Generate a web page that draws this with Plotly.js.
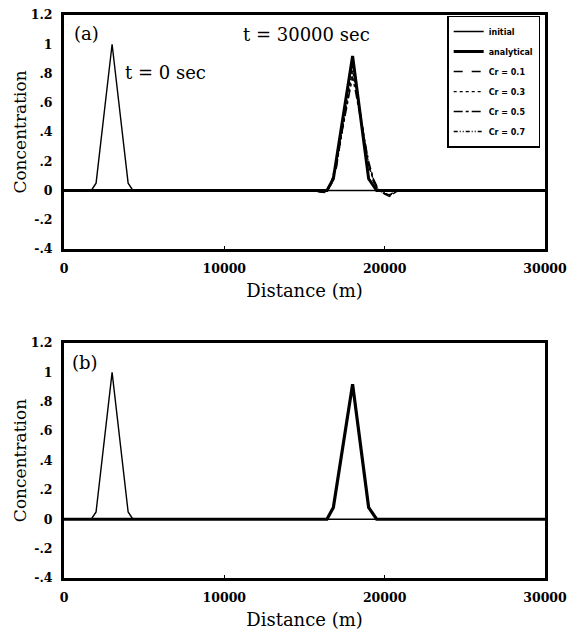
<!DOCTYPE html>
<html>
<head>
<meta charset="utf-8">
<script src="https://cdn.plot.ly/plotly-3.0.1.min.js"></script>
<style>html,body{margin:0;padding:0;background:#fff;}#chart{width:574px;height:632px;}</style>
</head>
<body>
<div id="chart"></div>
<script>
// ---- data ----
var initialX = [0, 1700, 2000, 3000, 4000, 4300, 30000];
var initialY = [0, 0, 0.05, 1.0, 0.05, 0, 0];

var analyticalX = [0, 16400, 16800, 18000, 19000, 19500, 30000];
var analyticalY = [0, 0, 0.08, 0.92, 0.08, 0, 0];

var numX = [0, 15500, 16000, 16400, 16700, 17000, 17500, 18000, 18500, 19000, 19300, 19600, 20000, 20300, 20700, 21000, 30000];
var cr01Y = [0, 0, -0.01, -0.01, 0.05, 0.16, 0.52, 0.90, 0.52, 0.17, 0.06, 0.0, -0.02, -0.03, -0.005, 0, 0];
var cr03Y = [0, 0, -0.005, -0.01, 0.06, 0.18, 0.50, 0.82, 0.50, 0.18, 0.07, 0.01, -0.02, -0.035, -0.01, 0, 0];
var cr05Y = [0, 0, -0.01, -0.015, 0.07, 0.20, 0.49, 0.78, 0.49, 0.20, 0.08, 0.01, -0.025, -0.04, -0.01, 0, 0];
var cr07Y = [0, 0, -0.005, -0.01, 0.06, 0.17, 0.51, 0.86, 0.51, 0.18, 0.07, 0.0, -0.02, -0.03, -0.005, 0, 0];

var yTickVals = [-0.4, -0.2, 0, 0.2, 0.4, 0.6, 0.8, 1, 1.2];
var yTickText = ['-.4', '-.2', '0', '.2', '.4', '.6', '.8', '1', '1.2'];
var xTickVals = [0, 10000, 20000, 30000];
var xTickText = ['0', '10000', '20000', '30000'];

var seriesNames = ['initial', 'analytical', 'Cr = 0.1', 'Cr = 0.3', 'Cr = 0.5', 'Cr = 0.7'];

// ---- traces ----
function tr(x, y, name, width, dash, xa, ya, show, grp) {
  return {x: x, y: y, name: name, type: 'scatter', mode: 'lines',
    line: {color: '#000', width: width, dash: dash},
    xaxis: xa, yaxis: ya, showlegend: show, legendgroup: grp, hoverinfo: 'skip'};
}
var data = [
  tr(initialX, initialY, seriesNames[0], 1.4, 'solid', 'x', 'y', true, 'g0'),
  tr(analyticalX, analyticalY, seriesNames[1], 3, 'solid', 'x', 'y', true, 'g1'),
  tr(numX, cr01Y, seriesNames[2], 1.4, 'dash', 'x', 'y', true, 'g2'),
  tr(numX, cr03Y, seriesNames[3], 1.2, 'dot', 'x', 'y', true, 'g3'),
  tr(numX, cr05Y, seriesNames[4], 1.4, 'dashdot', 'x', 'y', true, 'g4'),
  tr(numX, cr07Y, seriesNames[5], 1.4, '4px,2px,1px,2px,1px,2px', 'x', 'y', true, 'g5'),
  tr(initialX, initialY, seriesNames[0], 1.4, 'solid', 'x2', 'y2', false, 'g0'),
  tr(analyticalX, analyticalY, seriesNames[1], 3.2, 'solid', 'x2', 'y2', false, 'g1')
];

var serif = 'DejaVu Serif';
function xax(anchor) {
  return {anchor: anchor, domain: [0, 1], range: [0, 30000], tickvals: xTickVals, ticktext: xTickText,
    ticks: 'inside', ticklen: 3, tickwidth: 1.5, tickcolor: '#000',
    tickfont: {family: serif, size: 12.5, color: '#000', weight: 'bold'}, ticklabelstandoff: 6,
    showline: true, mirror: true, linewidth: 3, linecolor: '#000', showgrid: false, zeroline: false,
    title: {text: 'Distance (m)', font: {family: serif, size: 18, color: '#000'}, standoff: 10}};
}
function yax(anchor, dom) {
  return {anchor: anchor, domain: dom, range: [-0.4, 1.2], tickvals: yTickVals, ticktext: yTickText,
    ticks: '', tickfont: {family: serif, size: 12.5, color: '#000', weight: 'bold'}, ticklabelstandoff: 6,
    showline: true, mirror: true, linewidth: 3, linecolor: '#000', showgrid: false, zeroline: false,
    title: {text: 'Concentration', font: {family: serif, size: 17, color: '#000'}, standoff: 0}};
}

var layout = {
  width: 574, height: 632,
  margin: {l: 64, r: 29, t: 15, b: 54},
  paper_bgcolor: '#fff', plot_bgcolor: '#fff',
  showlegend: true,
  legend: {x: 0.99, y: 0.999, xanchor: 'right', yanchor: 'top', bgcolor: '#fff',
    bordercolor: '#000', borderwidth: 1.5, traceorder: 'grouped', tracegroupgap: 1,
    font: {family: 'DejaVu Sans', size: 8, color: '#000', weight: 'bold'}, itemwidth: 30},
  xaxis: xax('y'),
  yaxis: yax('x', [0.5844, 1]),
  xaxis2: xax('y2'),
  yaxis2: yax('x2', [0, 0.4174]),
  annotations: [
    {text: '(a)', xref: 'x domain', yref: 'y domain', x: 0.017, y: 0.923, xanchor: 'left', yanchor: 'middle', showarrow: false, font: {family: serif, size: 18, color: '#000'}},
    {text: 't = 0 sec', xref: 'x domain', yref: 'y domain', x: 0.123, y: 0.756, xanchor: 'left', yanchor: 'middle', showarrow: false, font: {family: serif, size: 18, color: '#000'}},
    {text: 't = 30000 sec', xref: 'x domain', yref: 'y domain', x: 0.368, y: 0.915, xanchor: 'left', yanchor: 'middle', showarrow: false, font: {family: serif, size: 18, color: '#000'}},
    {text: '(b)', xref: 'x2 domain', yref: 'y2 domain', x: 0.013, y: 0.915, xanchor: 'left', yanchor: 'middle', showarrow: false, font: {family: serif, size: 18, color: '#000'}}
  ]
};

Plotly.newPlot('chart', data, layout, {staticPlot: true, displayModeBar: false});
</script>
</body>
</html>
